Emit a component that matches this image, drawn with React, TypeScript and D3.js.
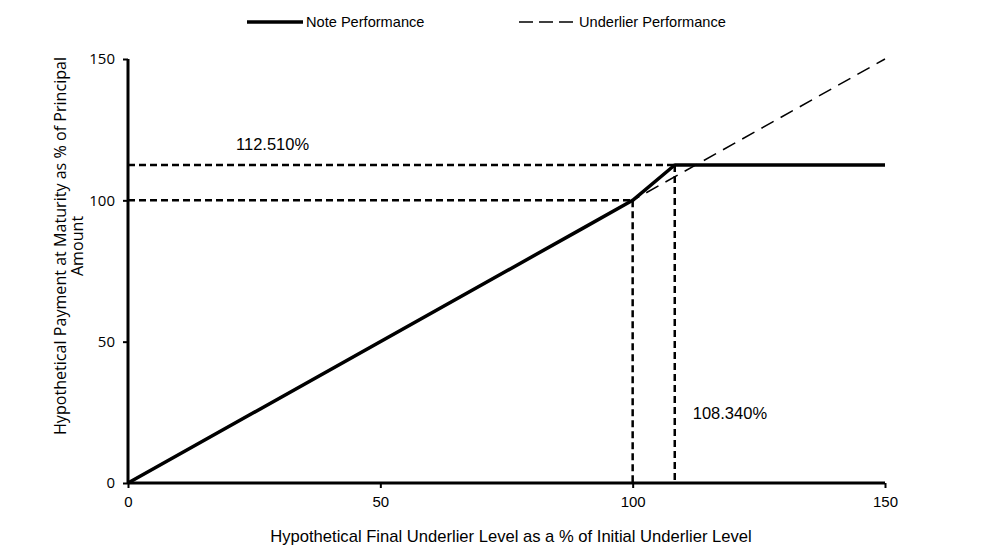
import React, { useEffect, useRef } from "react";
import * as d3 from "d3";

// note payoff: participation to 100, accelerated to the cap, then flat
const notePoints: [number, number][] = [
  [0, 0],
  [90, 90],
  [100, 100],
  [108.34, 112.51],
  [150, 112.51],
];
const underlierPoints: [number, number][] = [
  [0, 0],
  [150, 150],
];
const xTicks = [0, 50, 100, 150];
const yTicks = [0, 50, 100, 150];
const capLevel = 112.51;
const capStrike = 108.34;
const parLevel = 100;

const W = 1000;
const H = 555;
const margin = { left: 128, right: 115, top: 59, bottom: 72 };

export default function App() {
  const ref = useRef<SVGSVGElement>(null);

  useEffect(() => {
    const svg = d3.select(ref.current);
    svg.selectAll("*").remove();

    const x = d3.scaleLinear().domain([0, 150]).range([margin.left, W - margin.right]);
    const y = d3.scaleLinear().domain([0, 150]).range([H - margin.bottom, margin.top]);
    const font = "'Liberation Sans', Arial, sans-serif";
    const soft = "'Open Sans', 'Liberation Sans', sans-serif";

    const g = svg.append("g");

    // guide lines
    const guide = (x1: number, y1: number, x2: number, y2: number) =>
      g
        .append("line")
        .attr("x1", x1)
        .attr("y1", y1)
        .attr("x2", x2)
        .attr("y2", y2)
        .attr("stroke", "#000")
        .attr("stroke-width", 2.5)
        .attr("stroke-dasharray", "7,4");

    guide(x(0), y(parLevel), x(parLevel), y(parLevel));
    guide(x(0), y(capLevel), x(capStrike), y(capLevel));
    guide(x(parLevel), y(parLevel), x(parLevel), y(0));
    guide(x(capStrike), y(capLevel), x(capStrike), y(0));

    const line = d3
      .line<[number, number]>()
      .x((d) => x(d[0]))
      .y((d) => y(d[1]));

    g.append("path")
      .attr("d", line(underlierPoints))
      .attr("fill", "none")
      .attr("stroke", "#000")
      .attr("stroke-width", 1.5)
      .attr("stroke-dasharray", "14,8");

    g.append("path")
      .attr("d", line(notePoints))
      .attr("fill", "none")
      .attr("stroke", "#000")
      .attr("stroke-width", 3.5)
      .attr("stroke-linejoin", "round");

    // axes
    const xAxis = g
      .append("g")
      .attr("transform", `translate(0,${y(0)})`)
      .call(d3.axisBottom(x).tickValues(xTicks).tickSize(5).tickPadding(8));
    xAxis.select(".domain").attr("stroke-width", 3).attr("d", `M${x(0)},0H${x(150)}`);
    xAxis.selectAll(".tick line").attr("stroke-width", 2);
    xAxis
      .selectAll(".tick text")
      .attr("font-family", font)
      .attr("font-size", 15)
      .attr("fill", "#000");

    const yAxis = g
      .append("g")
      .attr("transform", `translate(${x(0)},0)`)
      .call(d3.axisLeft(y).tickValues(yTicks).tickSize(5).tickPadding(8));
    yAxis.select(".domain").attr("stroke-width", 3).attr("d", `M0,${y(0)}V${y(150)}`);
    yAxis.selectAll(".tick line").attr("stroke-width", 2);
    yAxis
      .selectAll(".tick text")
      .attr("font-family", soft)
      .attr("font-size", 15)
      .attr("fill", "#000");

    // annotations
    g.append("text")
      .attr("x", 236)
      .attr("y", y(capLevel) - 15)
      .attr("font-family", font)
      .attr("font-size", 16.5)
      .text("112.510%");
    g.append("text")
      .attr("x", x(capStrike) + 18)
      .attr("y", 419)
      .attr("font-family", font)
      .attr("font-size", 16.5)
      .text("108.340%");

    // axis titles
    g.append("text")
      .attr("x", 511)
      .attr("y", 542)
      .attr("text-anchor", "middle")
      .attr("font-family", font)
      .attr("font-size", 16.6)
      .text("Hypothetical Final Underlier Level as a % of Initial Underlier Level");

    const yTitle = g
      .append("text")
      .attr("transform", `translate(66,246) rotate(-90)`)
      .attr("text-anchor", "middle")
      .attr("font-family", soft)
      .attr("font-size", 16.1);
    yTitle.append("tspan").attr("x", 0).attr("dy", 0).text("Hypothetical Payment at Maturity as % of Principal");
    yTitle.append("tspan").attr("x", 0).attr("dy", 17).text("Amount");

    // legend
    const legend = g.append("g").attr("transform", "translate(0,22)");
    legend
      .append("line")
      .attr("x1", 247)
      .attr("x2", 303)
      .attr("stroke", "#000")
      .attr("stroke-width", 3.5);
    legend
      .append("text")
      .attr("x", 306)
      .attr("dy", "0.35em")
      .attr("font-family", font)
      .attr("font-size", 14.6)
      .text("Note Performance");
    legend
      .append("line")
      .attr("x1", 519)
      .attr("x2", 573)
      .attr("stroke", "#000")
      .attr("stroke-width", 1.5)
      .attr("stroke-dasharray", "14,6");
    legend
      .append("text")
      .attr("x", 579)
      .attr("dy", "0.35em")
      .attr("font-family", font)
      .attr("font-size", 14.6)
      .text("Underlier Performance");
  }, []);

  return (
    <div style={{ position: "absolute", left: 0, top: 0 }}>
      <svg ref={ref} width={W} height={H} style={{ display: "block", background: "#fff" }} />
    </div>
  );
}
